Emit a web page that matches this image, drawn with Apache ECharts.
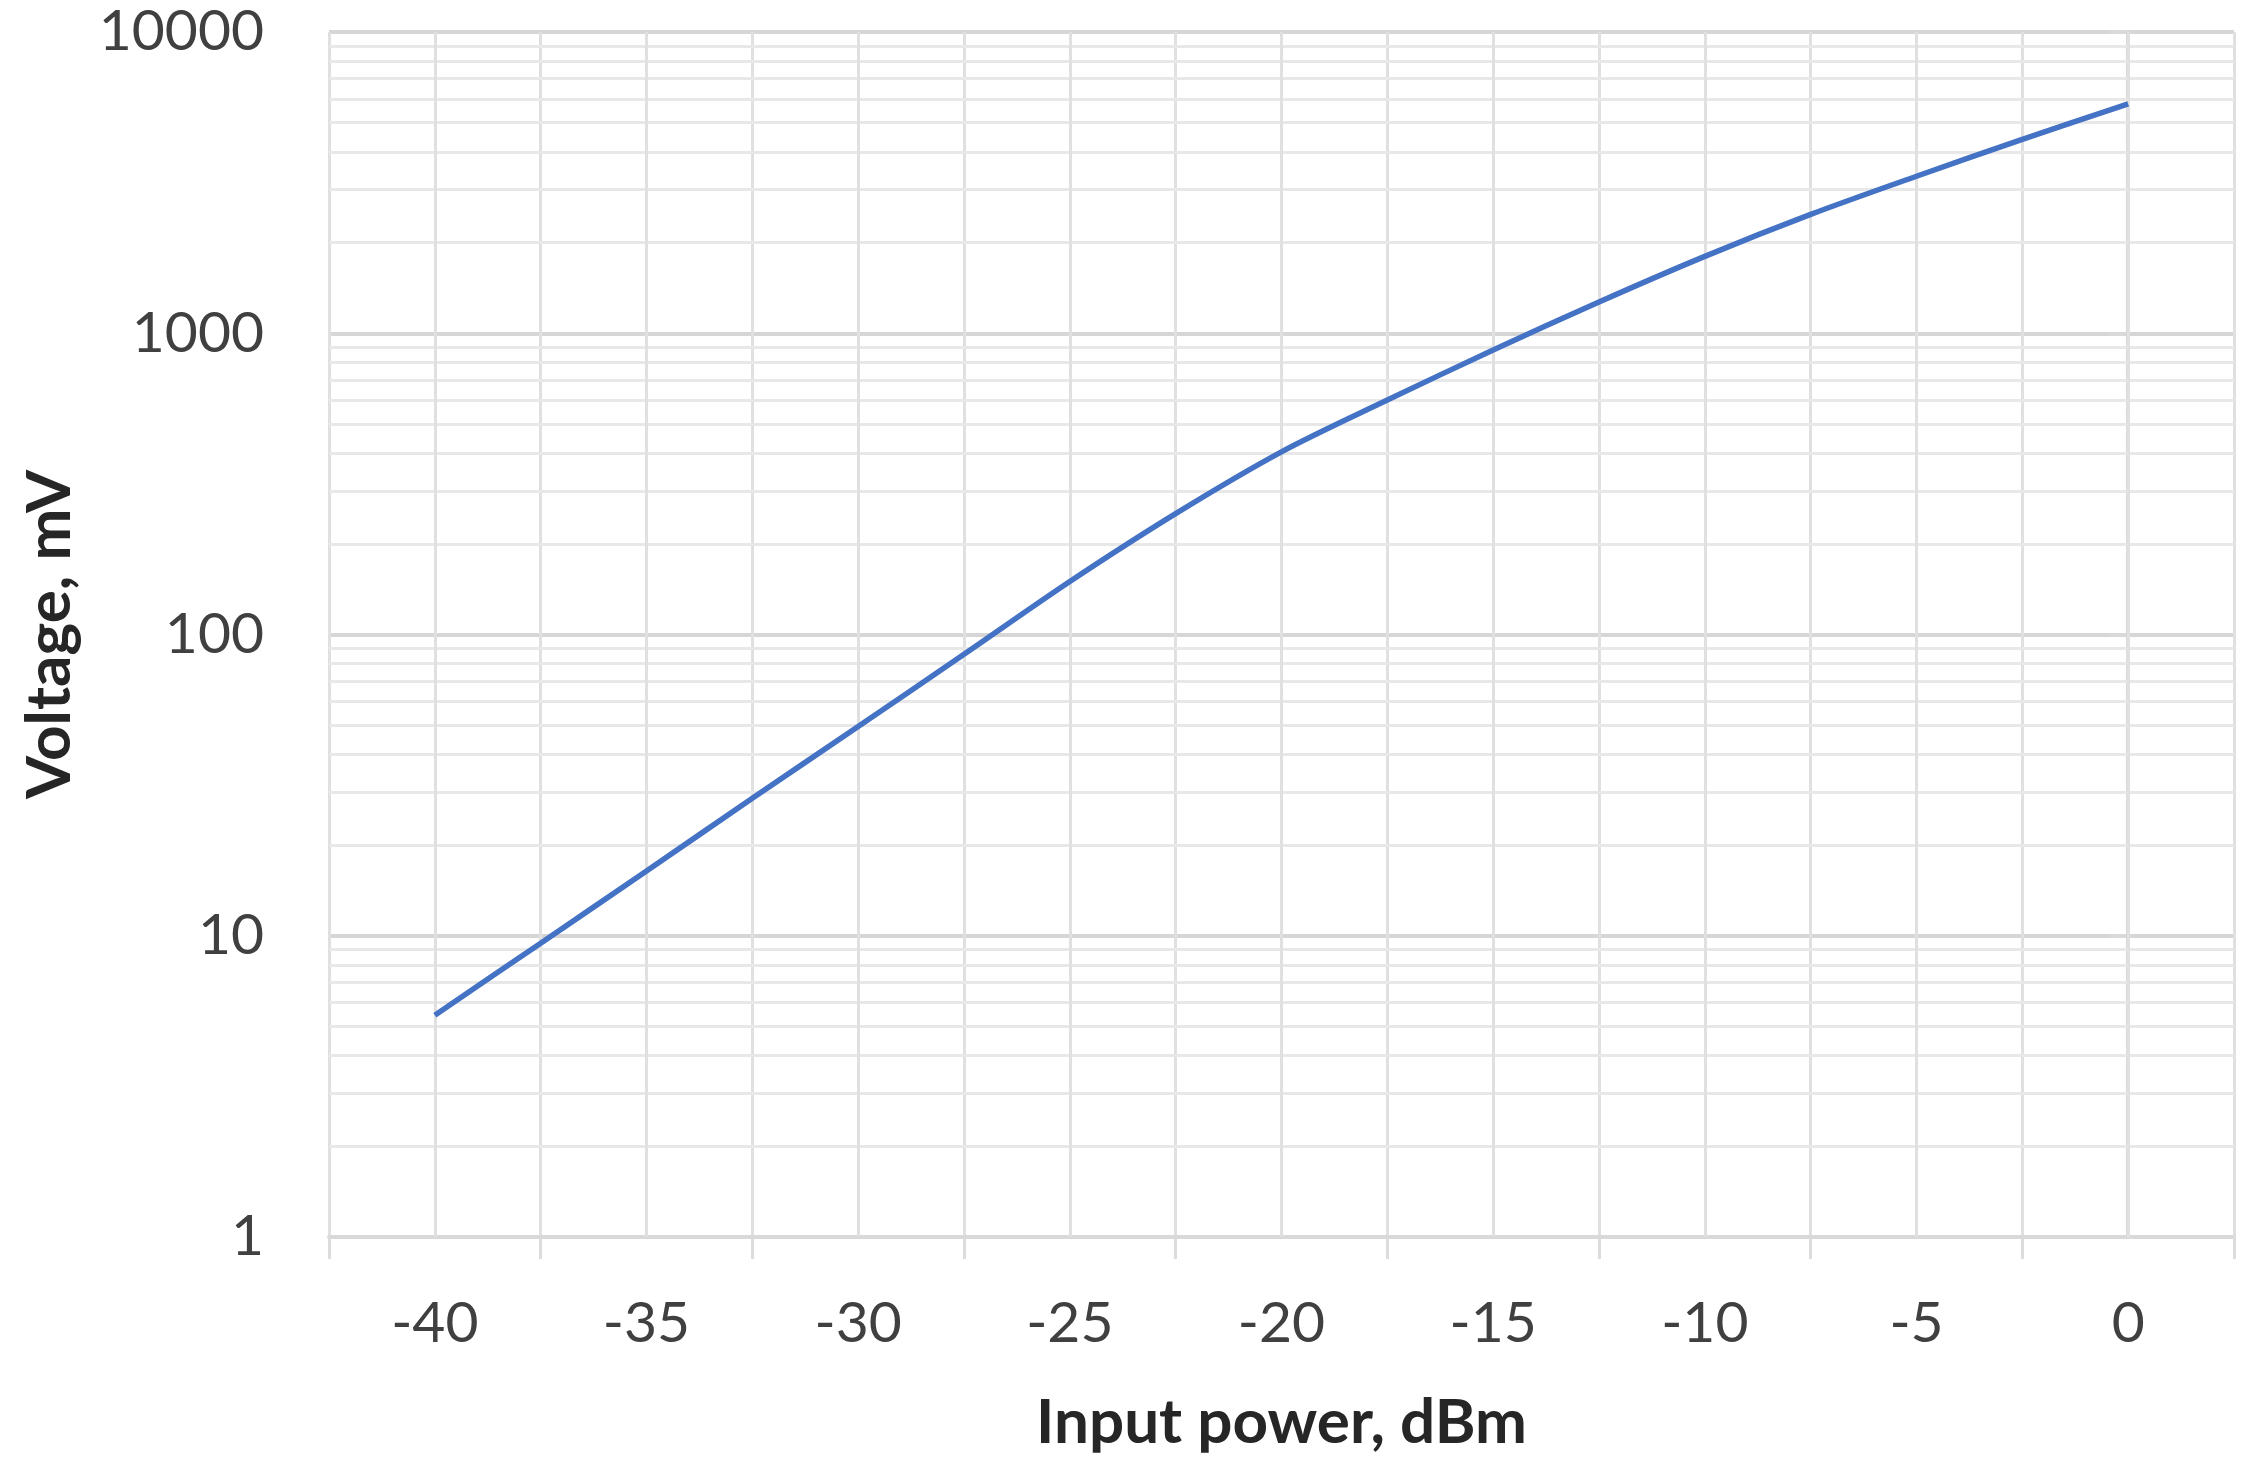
<!DOCTYPE html>
<html>
<head>
<meta charset="utf-8">
<title>Voltage vs input power</title>
<script src="https://cdn.jsdelivr.net/npm/echarts@6/dist/echarts.min.js"></script>
<style>
  html, body { margin: 0; padding: 0; background: #fff; }
  #chart { width: 2263px; height: 1466px; }
</style>
</head>
<body>
<div id="chart"></div>
<script>
// input power, dBm
const inputPower = [-40, -37.5, -35, -32.5, -30, -27.5, -25, -22.5, -20, -17.5, -15, -12.5, -10, -7.5, -5, -2.5, 0];
// output voltage, mV
const voltage = [5.45, 9.45, 16.4, 28.6, 49.5, 86, 150, 252, 404, 600, 880, 1270, 1800, 2480, 3320, 4400, 5770];

// x tick marks sit between the labelled values
const xTickValues = [-42.5, -37.5, -32.5, -27.5, -22.5, -17.5, -12.5, -7.5, -2.5, 2.5];
const xLabelValues = [-40, -35, -30, -25, -20, -15, -10, -5, 0];
// minor horizontal grid lines of the log axis
const yMinorLines = [2, 3, 4, 5, 6, 7, 8, 9, 20, 30, 40, 50, 60, 70, 80, 90,
  200, 300, 400, 500, 600, 700, 800, 900, 2000, 3000, 4000, 5000, 6000, 7000, 8000, 9000];

const font = 'Lato, "Open Sans", sans-serif';
const chart = echarts.init(document.getElementById('chart'), null, { renderer: 'canvas' });

chart.setOption({
  animation: false,
  backgroundColor: '#ffffff',
  grid: { left: 329, right: 29, top: 32, bottom: 229 },
  xAxis: {
    type: 'value',
    min: -42.5,
    max: 2.5,
    interval: 2.5,
    name: 'Input power, dBm',
    nameLocation: 'middle',
    nameGap: 155,
    nameTextStyle: { fontFamily: font, fontSize: 62, fontWeight: 'bold', color: '#262626' },
    axisLine: { show: true, lineStyle: { color: '#d9d9d9', width: 4 } },
    axisTick: { show: true, customValues: xTickValues, length: 22, lineStyle: { color: '#dcdcdc', width: 3 } },
    axisLabel: { customValues: xLabelValues, fontFamily: font, fontSize: 57, color: '#404040', margin: 58 },
    splitLine: { show: true, lineStyle: { color: '#e0e0e0', width: 3 } }
  },
  yAxis: {
    type: 'log',
    logBase: 10,
    min: 1,
    max: 10000,
    name: 'Voltage, mV',
    nameLocation: 'middle',
    nameGap: 248,
    nameTextStyle: { fontFamily: font, fontSize: 62, fontWeight: 'bold', color: '#262626' },
    axisLine: { show: true, lineStyle: { color: '#d9d9d9', width: 4 } },
    axisTick: { show: true, length: 19, lineStyle: { color: '#d9d9d9', width: 4 } },
    axisLabel: {
      fontFamily: font, fontSize: 57, color: '#404040', margin: 65,
      formatter: v => String(Math.round(v))
    },
    splitLine: { show: true, lineStyle: { color: '#d6d6d6', width: 4 } }
  },
  series: [
    {
      // carries only the minor grid lines
      type: 'line',
      data: [],
      z: 1,
      markLine: {
        silent: true,
        z: 1,
        symbol: ['none', 'none'],
        label: { show: false },
        lineStyle: { color: '#e8e8e8', width: 3, type: 'solid' },
        data: yMinorLines.map(v => ({ yAxis: v }))
          .concat(xLabelValues.map(v => ({ xAxis: v, lineStyle: { color: '#e0e0e0', width: 3, type: 'solid' } })))
      }
    },
    {
      name: 'Voltage',
      type: 'line',
      z: 10,
      showSymbol: false,
      smooth: 0.3,
      lineStyle: { color: '#4472C4', width: 5.5 },
      data: inputPower.map((p, i) => [p, voltage[i]])
    }
  ]
});
</script>
</body>
</html>
